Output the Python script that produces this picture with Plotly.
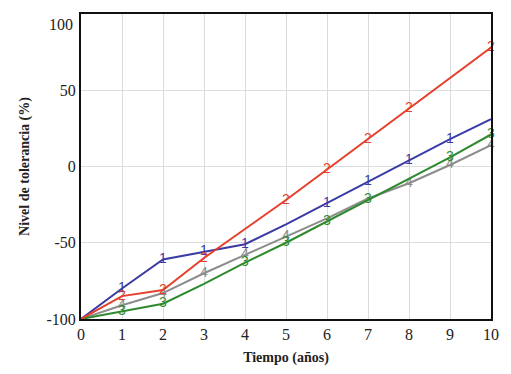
import plotly.graph_objects as go

years = [0, 1, 2, 3, 4, 5, 6, 7, 8, 9, 10]
serie1 = [-100, -80, -61, -56, -51, -38, -24, -10, 4, 18, 31]
serie2 = [-100, -85, -81, -60, -41, -22, -2, 18, 38, 58, 78]
serie3 = [-100, -95, -90, -77, -63, -50, -36, -21.5, -8, 6, 21]
serie4 = [-100, -91, -83, -70, -58, -46, -34, -21, -11, 1, 14]

marks1 = [1, 2, 3, 4, 6, 7, 8, 9]
marks2 = [1, 2, 3, 5, 6, 7, 8, 10]
marks3 = [1, 2, 4, 5, 6, 7, 9, 10]
marks4 = [1, 2, 3, 4, 5, 8, 9, 10]

y_ticks = [-100, -50, 0, 50, 100]
y_labels = ["-100", "-50", "0", "50", ""]
top_label = "100"

series = [
    ("4", serie4, marks4, "#8c8c8c"),
    ("3", serie3, marks3, "#2f8a2f"),
    ("1", serie1, marks1, "#3b3ba6"),
    ("2", serie2, marks2, "#e5402c"),
]

fig = go.Figure()
for label, ys, marks, color in series:
    fig.add_trace(go.Scatter(
        x=years, y=ys, mode="lines+text",
        text=[label if x in marks else "" for x in years],
        textposition="middle center",
        textfont=dict(family="Liberation Sans", size=14, color=color),
        line=dict(color=color, width=2),
        showlegend=False,
        cliponaxis=False,
    ))

fig.add_annotation(
    x=0, xref="paper", y=y_ticks[-1], yref="y", text=top_label,
    xanchor="right", yanchor="middle", xshift=-6, yshift=-10,
    showarrow=False, font=dict(family="Liberation Serif", size=16, color="#222"),
)

fig.update_layout(
    width=503, height=366,
    margin=dict(l=73, r=20, t=4, b=55),
    paper_bgcolor="white", plot_bgcolor="white",
    font=dict(family="Liberation Serif", size=16, color="#222"),
)
fig.update_xaxes(
    range=[0, 10], dtick=1, showgrid=True, gridcolor="#dcdcdc", gridwidth=1,
    showline=True, linecolor="#111", linewidth=2, mirror=True,
    ticks="", zeroline=False,
    title=dict(text="<b>Tiempo (años)</b>", font=dict(size=14), standoff=10),
)
fig.update_yaxes(
    range=[-100, 100], tickvals=y_ticks, ticktext=y_labels,
    showgrid=True, gridcolor="#dcdcdc", gridwidth=1,
    showline=True, linecolor="#111", linewidth=2, mirror=True,
    ticks="", zeroline=False,
    title=dict(text="<b>Nivel de tolerancia (%)</b>", font=dict(size=14), standoff=14),
)

fig.write_html("out.html")
